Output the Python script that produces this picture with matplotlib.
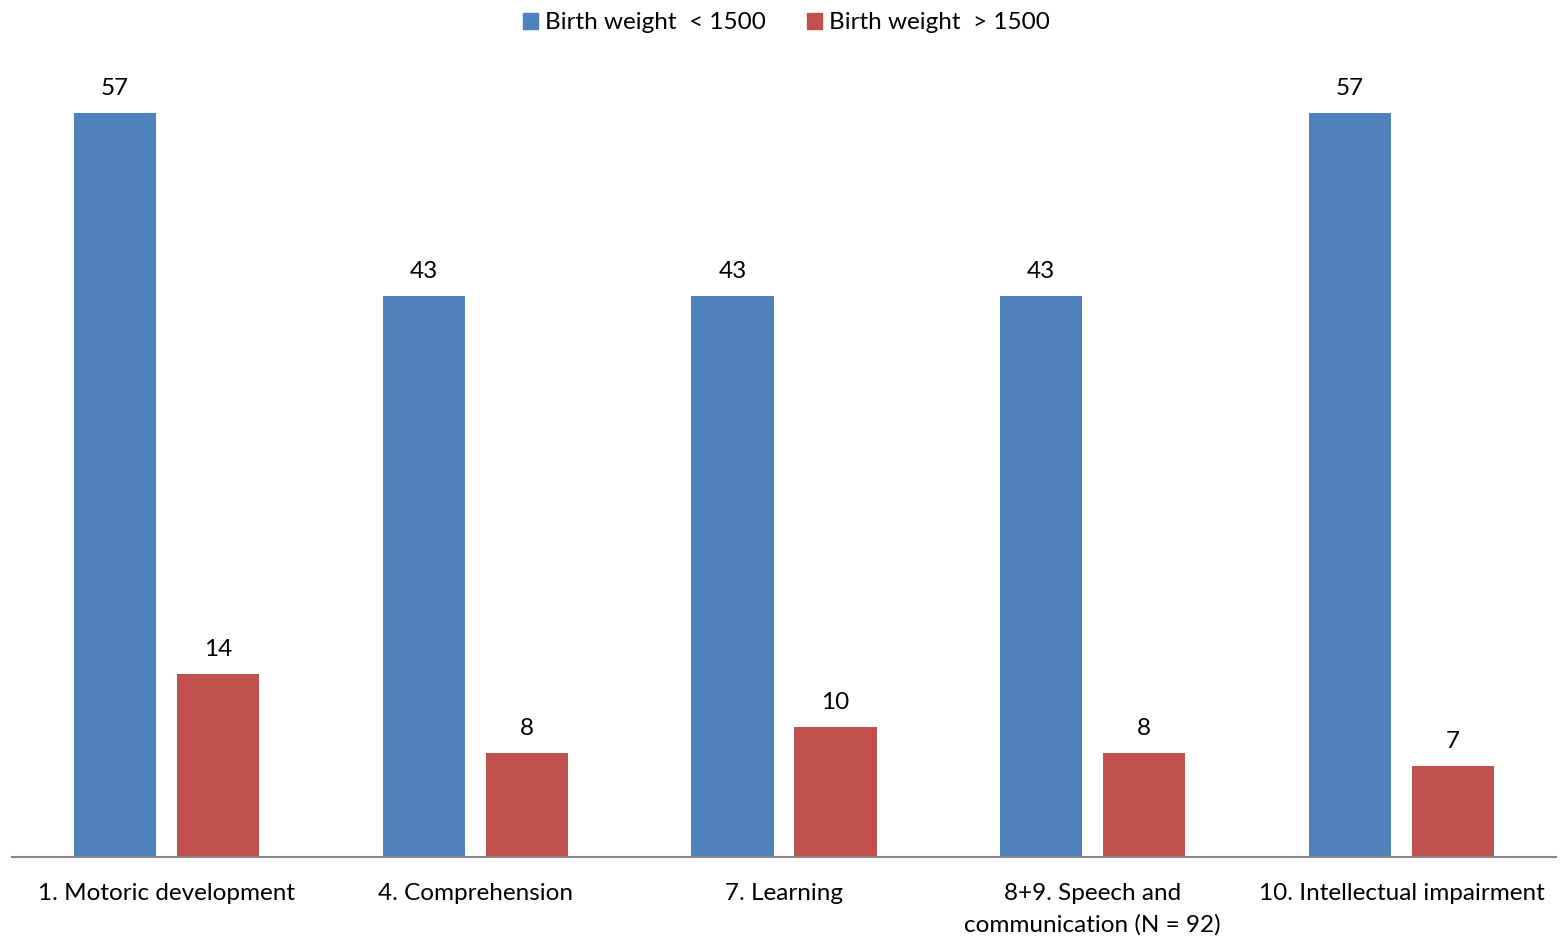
import numpy as np
import matplotlib.pyplot as plt
from matplotlib.patches import Patch

plt.rcParams['font.family'] = ['Lato', 'DejaVu Sans']

# data
categories = ["1. Motoric development", "4. Comprehension", "7. Learning",
              "8+9. Speech and\ncommunication (N = 92)", "10. Intellectual impairment"]
low_bw = [57, 43, 43, 43, 57]
high_bw = [14, 8, 10, 8, 7]
series_names = ["Birth weight  < 1500", "Birth weight  > 1500"]

blue = "#4F81BD"
red = "#C0504D"

fig = plt.figure(figsize=(15.61, 9.39), dpi=100)
ax = fig.add_axes([12 / 1561, 1 - 857 / 939, 1544 / 1561, (857 - 74) / 939])

x = np.arange(len(categories))
w = 0.266
off = 0.167
b1 = ax.bar(x - off, low_bw, w, color=blue)
b2 = ax.bar(x + off, high_bw, w, color=red)

for bars in (b1, b2):
    for rect in bars:
        h = rect.get_height()
        ax.annotate(f"{h:.0f}", (rect.get_x() + rect.get_width() / 2, h),
                    xytext=(0, 10), textcoords="offset points",
                    ha="center", va="bottom", fontsize=17.5)

ax.set_xlim(-0.5, len(categories) - 0.5)
ax.set_ylim(0, 60)
ax.set_xticks(x)
ax.set_xticklabels(categories, fontsize=17.5, linespacing=1.55)
ax.tick_params(axis="x", length=0, pad=19)
ax.set_yticks([])
for s in ("top", "right", "left"):
    ax.spines[s].set_visible(False)
ax.spines["bottom"].set_color("#868686")
ax.spines["bottom"].set_linewidth(1.5)

handles = [Patch(color=blue), Patch(color=red)]
fig.legend(handles, series_names, loc="upper center", bbox_to_anchor=(0.504, 1.01),
           ncol=2, frameon=False, fontsize=17.5, handlelength=0.6, handleheight=0.6,
           handletextpad=0.3, columnspacing=1.7)

fig.savefig("out.png", dpi=100)
